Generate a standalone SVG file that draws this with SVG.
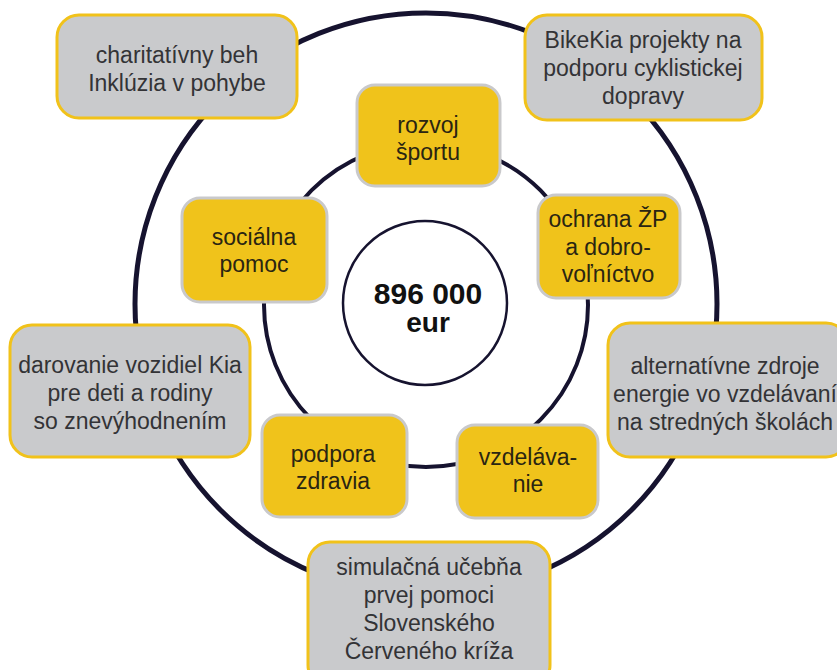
<svg xmlns="http://www.w3.org/2000/svg" width="837" height="670" viewBox="0 0 837 670">
<style>
.ring{fill:none;stroke:#16132f}
.yb{fill:#f0c31b;stroke:#c9c9cb;stroke-width:3}
.gb{fill:#c9cacc;stroke:#f1c21a;stroke-width:3}
.t{font-family:"Liberation Sans",Arial,sans-serif;font-size:23px;text-anchor:middle}
.ty{fill:#2a2512}
.tg{fill:#333336}
.c{font-family:"Liberation Sans",Arial,sans-serif;font-weight:bold;text-anchor:middle;fill:#111}
</style>
<rect width="837" height="670" fill="#ffffff"/>
<g id="connectors">
<circle class="ring" cx="426" cy="304" r="291" stroke-width="5"/>
<circle class="ring" cx="426" cy="305" r="162" stroke-width="4"/>
</g>
<g id="center">
<circle cx="425" cy="303" r="82" fill="#ffffff" stroke="#16132f" stroke-width="2.5"/>
<text class="c" x="428" y="304" font-size="30">896 000</text>
<text class="c" x="428" y="332" font-size="28">eur</text>
</g>
<g id="rozvoj">
<rect class="yb" x="357" y="85" width="143" height="101" rx="18"/>
<text class="t ty" x="428" y="133">rozvoj</text>
<text class="t ty" x="428" y="160">športu</text>
</g>
<g id="ochrana">
<rect class="yb" x="538" y="195" width="142" height="103" rx="18"/>
<text class="t ty" x="608" y="227">ochrana ŽP</text>
<text class="t ty" x="608" y="255">a dobro-</text>
<text class="t ty" x="608" y="282">voľníctvo</text>
</g>
<g id="vzdelavanie">
<rect class="yb" x="457" y="425" width="141" height="93" rx="18"/>
<text class="t ty" x="528" y="465">vzdeláva-</text>
<text class="t ty" x="528" y="492">nie</text>
</g>
<g id="podpora">
<rect class="yb" x="262" y="415" width="145" height="102" rx="18"/>
<text class="t ty" x="333" y="462">podpora</text>
<text class="t ty" x="333" y="489">zdravia</text>
</g>
<g id="socialna">
<rect class="yb" x="182" y="198" width="145" height="104" rx="18"/>
<text class="t ty" x="254" y="245">sociálna</text>
<text class="t ty" x="254" y="272">pomoc</text>
</g>
<g id="charitativny">
<rect class="gb" x="57" y="15" width="240" height="103" rx="22"/>
<text class="t tg" x="177" y="63">charitatívny beh</text>
<text class="t tg" x="177" y="91">Inklúzia v pohybe</text>
</g>
<g id="bikekia">
<rect class="gb" x="525" y="15" width="237" height="105" rx="22"/>
<text class="t tg" x="643" y="48">BikeKia projekty na</text>
<text class="t tg" x="643" y="76">podporu cyklistickej</text>
<text class="t tg" x="643" y="104">dopravy</text>
</g>
<g id="alternativne">
<rect class="gb" x="608" y="323" width="240" height="134" rx="22"/>
<text class="t tg" x="725" y="374">alternatívne zdroje</text>
<text class="t tg" x="725" y="402">energie vo vzdelávaní</text>
<text class="t tg" x="725" y="430">na stredných školách</text>
</g>
<g id="darovanie">
<rect class="gb" x="10" y="325" width="240" height="132" rx="22"/>
<text class="t tg" x="130" y="373">darovanie vozidiel Kia</text>
<text class="t tg" x="130" y="401">pre deti a rodiny</text>
<text class="t tg" x="130" y="429">so znevýhodnením</text>
</g>
<g id="simulacna">
<rect class="gb" x="308" y="542" width="242" height="145" rx="22"/>
<text class="t tg" x="429" y="575">simulačná učebňa</text>
<text class="t tg" x="429" y="603">prvej pomoci</text>
<text class="t tg" x="429" y="631">Slovenského</text>
<text class="t tg" x="429" y="659">Červeného kríža</text>
</g>
</svg>
